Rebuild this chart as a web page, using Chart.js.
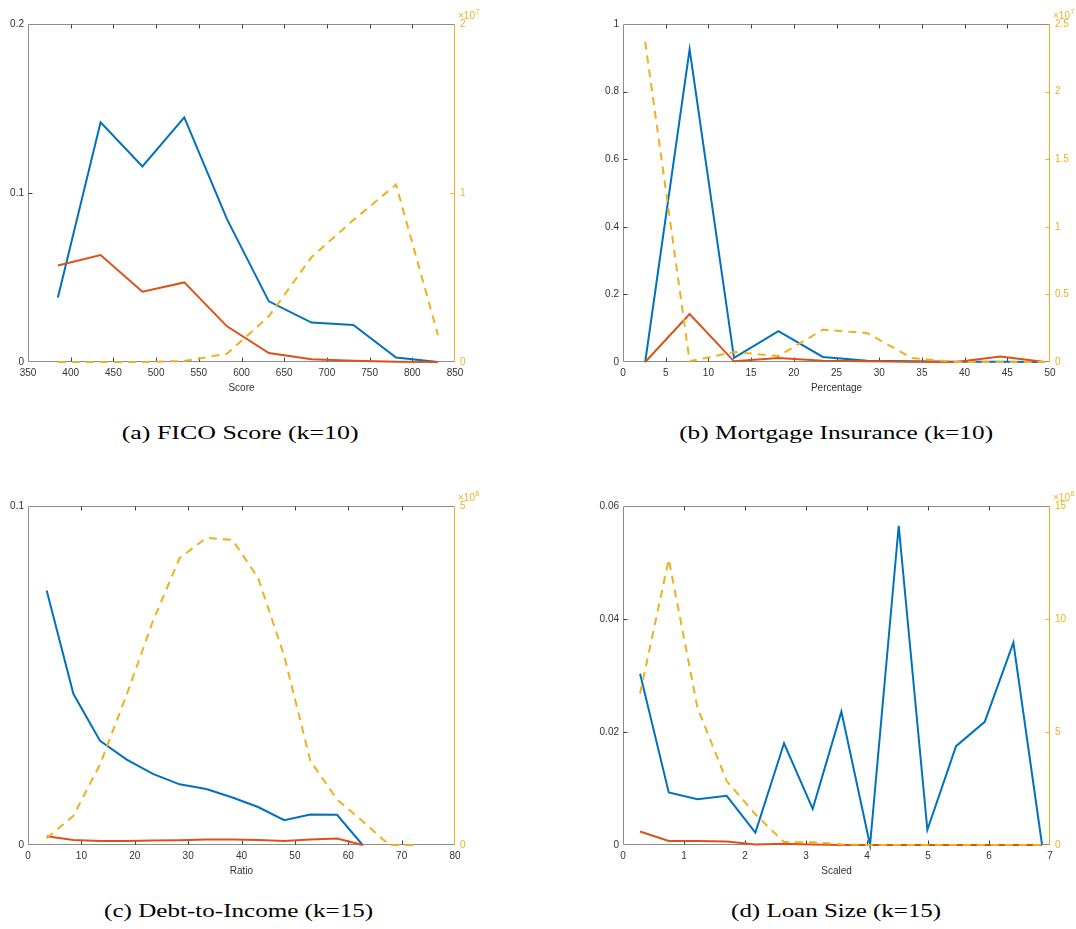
<!DOCTYPE html>
<html>
<head>
<meta charset="utf-8">
<title>Cluster profiles</title>
<script src="https://cdn.jsdelivr.net/npm/chart.js@4.4.1/dist/chart.umd.min.js"></script>
<style>
  html, body { margin: 0; padding: 0; background: #fff; }
  #page { position: relative; width: 1076px; height: 929px; overflow: hidden; }
  #page canvas { position: absolute; }
  .caption { position: absolute; font-family: 'Liberation Serif', serif; font-size: 19.5px; color: #000; white-space: nowrap; transform-origin: center center; }
</style>
</head>
<body>
<div id="page">
  <canvas id="ficoChart" width="538" height="400" style="left:0;top:0"></canvas>
  <canvas id="miChart" width="538" height="400" style="left:538px;top:0"></canvas>
  <canvas id="dtiChart" width="538" height="400" style="left:0;top:480px"></canvas>
  <canvas id="loanChart" width="538" height="400" style="left:538px;top:480px"></canvas>
  <div class="caption" data-cx="240" data-cy="433" data-w="237">(a) FICO Score (k=10)</div>
  <div class="caption" data-cx="836" data-cy="433" data-w="314">(b) Mortgage Insurance (k=10)</div>
  <div class="caption" data-cx="239" data-cy="911" data-w="269">(c) Debt-to-Income (k=15)</div>
  <div class="caption" data-cx="836" data-cy="911" data-w="210">(d) Loan Size (k=15)</div>
</div>
<script>
// (a) FICO score, k=10
const ficoX = [385, 435, 484, 533, 583, 632, 682, 731, 781, 830];
const ficoBlue = [0.0382, 0.1419, 0.1157, 0.1448, 0.0845, 0.0359, 0.0233, 0.0219, 0.0026, 0];
const ficoOrange = [0.0571, 0.0633, 0.0416, 0.0471, 0.0211, 0.0053, 0.0016, 0.0008, 0.0002, 0];
const ficoCount = [0, 0, 0, 6e4, 4.9e5, 2.7e6, 6.2e6, 8.4e6, 1.05e7, 1.6e6];
const ficoXTicks = [350, 400, 450, 500, 550, 600, 650, 700, 750, 800, 850];
const ficoYTicks = [0, 0.1, 0.2];
const ficoCountTicks = [0, 1e7, 2e7];

// (b) mortgage insurance, k=10
const miX = [2.6, 7.8, 13.0, 18.2, 23.4, 28.6, 33.8, 39.0, 44.2, 49.4];
const miBlue = [0, 0.925, 0.012, 0.091, 0.015, 0.004, 0.002, 0.001, 0.001, 0];
const miOrange = [0, 0.142, 0.002, 0.012, 0.004, 0.002, 0.001, 0, 0.016, 0];
const miCount = [2.37e7, 5e4, 7.4e5, 4.4e5, 2.39e6, 2.14e6, 3e5, 0, 0, 0];
const miXTicks = [0, 5, 10, 15, 20, 25, 30, 35, 40, 45, 50];
const miYTicks = [0, 0.2, 0.4, 0.6, 0.8, 1];
const miCountTicks = [0, 5e6, 1e7, 1.5e7, 2e7, 2.5e7];

// (c) debt-to-income, k=15
const dtiX = [3.5, 8.5, 13.5, 18.5, 23.4, 28.4, 33.4, 38.3, 43.1, 48.0, 52.9, 57.9, 62.7, 67.7, 72.6];
const dtiBlue = [0.0751, 0.0446, 0.0307, 0.0252, 0.0210, 0.0179, 0.0165, 0.0140, 0.0112, 0.0073, 0.0090, 0.0089, 0, null, null];
const dtiOrange = [0.0026, 0.0015, 0.0012, 0.0012, 0.0013, 0.0014, 0.0016, 0.0016, 0.0015, 0.0012, 0.0016, 0.0019, 0, null, null];
const dtiCount = [1e5, 4.3e5, 1.19e6, 2.22e6, 3.3e6, 4.23e6, 4.53e6, 4.5e6, 3.94e6, 2.79e6, 1.24e6, 6.7e5, 3.5e5, 0, 0];
const dtiXTicks = [0, 10, 20, 30, 40, 50, 60, 70, 80];
const dtiYTicks = [0, 0.1];
const dtiCountTicks = [0, 5e6];

// (d) loan size, k=15
const loanX = [0.28, 0.75, 1.22, 1.70, 2.17, 2.64, 3.11, 3.58, 4.05, 4.52, 4.99, 5.46, 5.93, 6.40, 6.87];
const loanBlue = [0.0303, 0.0093, 0.0081, 0.0087, 0.0022, 0.0180, 0.0064, 0.0236, 0, 0.0565, 0.0027, 0.0175, 0.0218, 0.0358, 0];
const loanOrange = [0.0024, 0.0007, 0.0007, 0.0006, 0.0001, 0.0002, 0.0001, 0, 0, 0, 0, 0, 0, 0, 0];
const loanCount = [6.7e6, 1.264e7, 6.08e6, 2.83e6, 1.36e6, 1.3e5, 1.2e5, 3e4, 0, 0, 0, 0, 0, 0, 0];
const loanXTicks = [0, 1, 2, 3, 4, 5, 6, 7];
const loanYTicks = [0, 0.02, 0.04, 0.06];
const loanCountTicks = [0, 5e6, 1e7, 1.5e7];

const BLUE = '#0072BD';
const ORANGE = '#D95319';
const YELLOW = '#EDB120';
const FRAME = '#8c8c8c';
const TICK = '#404040';
const TEXT = '#333333';
const tickFont = { family: "'Liberation Sans', Arial, sans-serif", size: 10 };

const pairs = (xs, ys) => xs.map((x, i) => ({ x, y: ys[i] }));
const fmt = v => String(+v.toFixed(4));

// matlab style box: inward ticks, yellow right axis, x10^n marker.
// drawn before the lines so the curves sitting on zero stay on top of the axis
const matlabBox = {
  id: 'matlabBox',
  beforeDatasetsDraw(chart, args, opts) {
    const { ctx, chartArea: a, scales } = chart;
    const L = Math.round(a.left) + 0.5, R = Math.round(a.right) - 0.5;
    const T = Math.round(a.top) + 0.5, B = Math.round(a.bottom) - 0.5;
    ctx.save();
    ctx.lineWidth = 1;
    ctx.strokeStyle = FRAME;
    ctx.beginPath();
    ctx.moveTo(R, T); ctx.lineTo(L, T); ctx.lineTo(L, B); ctx.lineTo(R, B);
    ctx.stroke();

    ctx.strokeStyle = TICK;
    ctx.beginPath();
    scales.x.ticks.forEach(t => {
      const px = Math.round(scales.x.getPixelForValue(t.value)) + 0.5;
      if (px <= L + 1 || px >= R - 1) return;
      ctx.moveTo(px, B); ctx.lineTo(px, B - 4);
      ctx.moveTo(px, T); ctx.lineTo(px, T + 4);
    });
    scales.y.ticks.forEach(t => {
      const py = Math.round(scales.y.getPixelForValue(t.value)) + 0.5;
      if (py <= T + 1 || py >= B - 1) return;
      ctx.moveTo(L, py); ctx.lineTo(L + 4, py);
    });
    ctx.stroke();

    ctx.strokeStyle = YELLOW;
    ctx.beginPath();
    ctx.moveTo(R, T - 0.5); ctx.lineTo(R, B + 0.5);
    scales.y1.ticks.forEach(t => {
      const py = Math.round(scales.y1.getPixelForValue(t.value)) + 0.5;
      if (py <= T + 1 || py >= B - 1) return;
      ctx.moveTo(R, py); ctx.lineTo(R - 4, py);
    });
    ctx.stroke();

    ctx.fillStyle = YELLOW;
    ctx.textBaseline = 'middle';
    ctx.font = "10px 'Liberation Sans', Arial, sans-serif";
    const base = '\u00d710';
    ctx.fillText(base, a.right + 3, a.top - 8);
    const w = ctx.measureText(base).width;
    ctx.font = "7px 'Liberation Sans', Arial, sans-serif";
    ctx.fillText(String(opts.exp), a.right + 3 + w + 0.5, a.top - 12);
    ctx.restore();
  }
};

function makePanel(id, p) {
  const scaleExp = Math.pow(10, p.exp);
  const fixTicks = list => scale => { scale.ticks = list.map(v => ({ value: v })); };
  new Chart(document.getElementById(id), {
    type: 'line',
    data: {
      datasets: [
        { data: pairs(p.x, p.count), yAxisID: 'y1', borderColor: YELLOW, borderDash: [8, 6], order: 0, clip: false },
        { data: pairs(p.x, p.orange), yAxisID: 'y', borderColor: ORANGE, order: 1, clip: false },
        { data: pairs(p.x, p.blue), yAxisID: 'y', borderColor: BLUE, order: 2, clip: false },
      ],
    },
    options: {
      responsive: false,
      animation: false,
      events: [],
      layout: { padding: p.pad },
      elements: {
        point: { radius: 0 },
        line: { borderWidth: 2, tension: 0, fill: false, borderCapStyle: 'butt', borderJoinStyle: 'miter' },
      },
      plugins: {
        legend: { display: false },
        tooltip: { enabled: false },
        matlabBox: { exp: p.exp },
      },
      scales: {
        x: {
          type: 'linear',
          min: p.xTicks[0],
          max: p.xTicks[p.xTicks.length - 1],
          afterBuildTicks: fixTicks(p.xTicks),
          afterFit(s) { s.height = 32; s.paddingLeft = 0; s.paddingRight = 0; },
          grid: { display: false, drawTicks: false },
          border: { display: false },
          ticks: { font: tickFont, color: TEXT, padding: 5, maxRotation: 0, autoSkip: false, callback: v => fmt(v) },
          title: { display: true, text: p.xTitle, font: tickFont, color: TEXT, padding: 0 },
        },
        y: {
          position: 'left',
          min: p.yTicks[0],
          max: p.yTicks[p.yTicks.length - 1],
          afterBuildTicks: fixTicks(p.yTicks),
          afterFit(s) { s.width = 28; s.paddingTop = 0; s.paddingBottom = 0; },
          grid: { display: false, drawTicks: false },
          border: { display: false },
          ticks: { font: tickFont, color: TEXT, padding: 4, autoSkip: false, callback: v => fmt(v) },
        },
        y1: {
          position: 'right',
          min: p.countTicks[0],
          max: p.countTicks[p.countTicks.length - 1],
          afterBuildTicks: fixTicks(p.countTicks),
          afterFit(s) { s.width = 26; s.paddingTop = 0; s.paddingBottom = 0; },
          grid: { display: false, drawTicks: false },
          border: { display: false },
          ticks: { font: tickFont, color: YELLOW, padding: 5, autoSkip: false, callback: v => fmt(v / scaleExp) },
        },
      },
    },
    plugins: [matlabBox],
  });
}

makePanel('ficoChart', {
  x: ficoX, blue: ficoBlue, orange: ficoOrange, count: ficoCount,
  xTicks: ficoXTicks, yTicks: ficoYTicks, countTicks: ficoCountTicks, exp: 7, xTitle: 'Score',
  pad: { left: 0, right: 57, top: 24, bottom: 6 },
});
makePanel('miChart', {
  x: miX, blue: miBlue, orange: miOrange, count: miCount,
  xTicks: miXTicks, yTicks: miYTicks, countTicks: miCountTicks, exp: 7, xTitle: 'Percentage',
  pad: { left: 57, right: 0, top: 24, bottom: 6 },
});
makePanel('dtiChart', {
  x: dtiX, blue: dtiBlue, orange: dtiOrange, count: dtiCount,
  xTicks: dtiXTicks, yTicks: dtiYTicks, countTicks: dtiCountTicks, exp: 6, xTitle: 'Ratio',
  pad: { left: 0, right: 57, top: 26, bottom: 3 },
});
makePanel('loanChart', {
  x: loanX, blue: loanBlue, orange: loanOrange, count: loanCount,
  xTicks: loanXTicks, yTicks: loanYTicks, countTicks: loanCountTicks, exp: 6, xTitle: 'Scaled',
  pad: { left: 57, right: 0, top: 26, bottom: 3 },
});

// captions: latex-like serif, stretched to the width they have in the figure
function placeCaptions() {
  document.querySelectorAll('.caption').forEach(el => {
    el.style.transform = 'none';
    const r = el.getBoundingClientRect();
    const k = +el.dataset.w / r.width;
    el.style.left = (+el.dataset.cx - r.width / 2) + 'px';
    el.style.top = (+el.dataset.cy - r.height / 2) + 'px';
    el.style.transform = 'scaleX(' + k.toFixed(3) + ')';
  });
}
placeCaptions();
if (document.fonts) document.fonts.ready.then(placeCaptions);
</script>
</body>
</html>
